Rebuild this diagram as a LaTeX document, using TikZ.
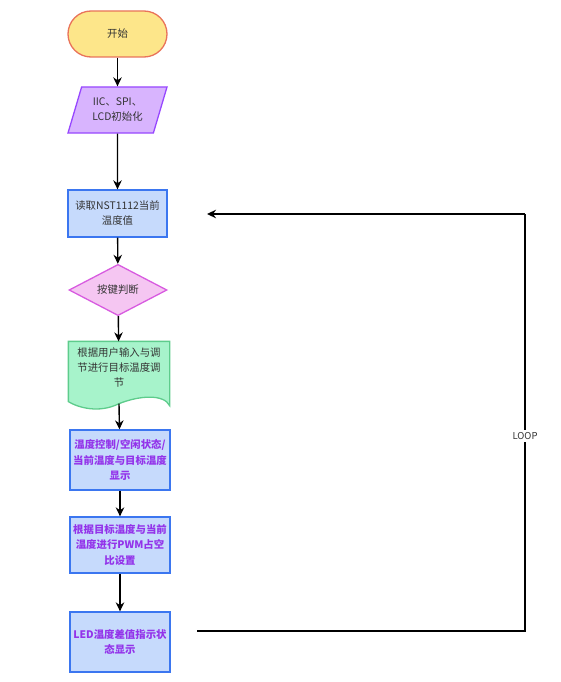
\documentclass[tikz,border=0pt]{standalone}
\usepackage{fontspec}
\setmainfont{Noto Sans CJK SC}
\usetikzlibrary{shapes.geometric,arrows.meta,calc}
\definecolor{txt}{HTML}{333333}
\definecolor{ptxt}{HTML}{9333EA}
\definecolor{yfill}{HTML}{FDE68A}
\definecolor{ydraw}{HTML}{E9735A}
\definecolor{pfill}{HTML}{D8B4FE}
\definecolor{pdraw}{HTML}{9747FF}
\definecolor{bfill}{HTML}{C6DAFC}
\definecolor{bdraw}{HTML}{3B76F0}
\definecolor{kfill}{HTML}{F5C6F2}
\definecolor{kdraw}{HTML}{D85BE0}
\definecolor{gfill}{HTML}{A7F3CB}
\definecolor{gdraw}{HTML}{5ECC8C}
\tikzset{
  base/.style={font=\fontsize{10.4pt}{15pt}\selectfont, text=txt, align=center, line width=1.3pt, inner sep=0pt},
  term/.style={base, rounded corners=23pt, draw=ydraw, fill=yfill, minimum width=99pt, minimum height=46pt},
  io/.style={base, trapezium, trapezium left angle=60, trapezium right angle=120, trapezium stretches body, draw=pdraw, fill=pfill, minimum width=99pt, minimum height=46pt},
  proc/.style={base, draw=bdraw, fill=bfill, minimum width=99pt, minimum height=47pt},
  procp/.style={proc, text=ptxt, font=\fontsize{10.4pt}{15.5pt}\selectfont\bfseries, minimum width=100pt},
  dec/.style={base, diamond, draw=kdraw, fill=kfill, minimum width=98pt, minimum height=46pt},
  docbox/.style={base, minimum width=100pt, minimum height=63pt},
  conn/.style={line width=1.4pt, draw=black, -{Stealth[length=9pt,width=8.5pt]}},
  plain/.style={line width=1.4pt, draw=black},
}
\begin{document}
\begin{tikzpicture}[x=1pt,y=-1pt]
\useasboundingbox (0,0) rectangle (560,682);
\node[term] (start) at (117.5,34) {开始};
\node[io] (init) at (117.5,110) {IIC、SPI、\\LCD初始化};
\node[proc] (read) at (117.5,213.5) {读取NST1112当前\\温度值};
\node[dec] (key) at (118,290) {按键判断};
\node[docbox] (adj) at (119,373.5) {};
\path[fill=gfill, draw=gdraw, line width=1.3pt] (adj.north west) -- (adj.north east) -- (adj.south east)
  .. controls ($(adj.south east)+(-6,-12)$) and ($(adj.south)+(20,-10)$) .. ($(adj.south)+(0,-2)$)
  .. controls ($(adj.south)+(-20,8)$) and ($(adj.south west)+(10,2)$) .. ($(adj.south west)+(0,-4)$) -- cycle;
\node[base, anchor=north] (adjtxt) at ([yshift=-6pt]adj.north) {根据用户输入与调\\节进行目标温度调\\节};
\coordinate (adjout) at ($(adj.south)+(0,-2)$);
\node[procp, minimum height=60pt] (disp) at (120,460) {温度控制/空闲状态/\\当前温度与目标温度\\显示};
\node[procp, minimum height=56pt] (pwm) at (120,545) {根据目标温度与当前\\温度进行PWM占空\\比设置};
\node[procp, minimum height=60pt] (led) at (120,642) {LED温度差值指示状\\态显示};
\coordinate (loopstart) at (197,631);
\coordinate (loopbr) at (525,631);
\coordinate (looptr) at (525,214);
\coordinate (loopend) at (207,214);
\draw[conn] (start) -- (init);
\draw[conn] (init) -- (read);
\draw[conn] (read) -- (key);
\draw[conn] (key) -- (adj);
\draw[conn] (adjout) -- (disp);
\draw[conn] (disp) -- (pwm);
\draw[conn] (pwm) -- (led);
\draw[plain] (loopstart) -- (loopbr) -- (looptr);
\draw[conn] (looptr) -- (loopend);
\node[fill=white, inner sep=2pt, font=\fontsize{9.5pt}{11pt}\selectfont, text=txt] (loop) at (525,436) {LOOP};
\end{tikzpicture}
\end{document}
